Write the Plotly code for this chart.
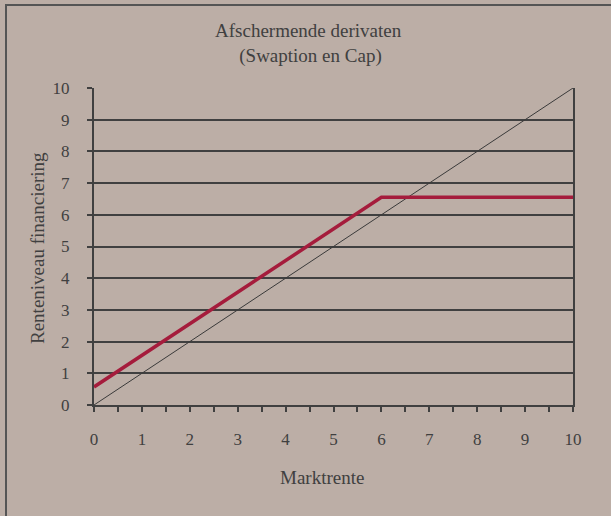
import plotly.graph_objects as go

# Market rate (x) versus resulting financing rate (y)
markt = [0, 10]
referentie = [0, 10]                 # unhedged: financing rate follows the market
afgedekt_x = [0, 6, 10]
afgedekt_y = [0.57, 6.55, 6.55]      # swaption + cap: shifted, capped above 6

x_ticks = list(range(0, 11))
y_ticks = list(range(0, 11))

BG = "#bcaea6"
INK = "#404040"
FONT = "Liberation Serif"

fig = go.Figure()
fig.add_trace(go.Scatter(x=markt, y=referentie, mode="lines",
                         line=dict(color="#3a3a3a", width=1), showlegend=False))
fig.add_trace(go.Scatter(x=afgedekt_x, y=afgedekt_y, mode="lines",
                         line=dict(color="#a51c3c", width=3.5), showlegend=False))

L, R, T, B = 94, 38, 88, 111
W, H = 611, 516
pw, ph = W - L - R, H - T - B

def px_x(px):
    return (px - L) / pw

def px_y(py):
    return (H - B - py) / ph

fig.update_layout(
    width=W, height=H,
    margin=dict(l=L, r=R, t=T, b=B),
    paper_bgcolor=BG, plot_bgcolor=BG,
    font=dict(family=FONT, color=INK, size=17),
    xaxis=dict(range=[0, 10], tickvals=x_ticks, ticks="outside", ticklen=5,
               tickwidth=1.5, tickcolor=INK, showgrid=False, zeroline=False,
               showline=True, linecolor=INK, linewidth=2,
               ticklabelstandoff=13, tickfont=dict(size=17),
               minor=dict(dtick=0.5, ticks="outside", ticklen=5,
                          tickwidth=1.5, tickcolor=INK, showgrid=False)),
    yaxis=dict(range=[0, 10], tickvals=y_ticks, ticks="outside", ticklen=5,
               tickwidth=1.5, tickcolor=INK, showgrid=True, gridcolor=INK,
               gridwidth=1.5, zeroline=False, showline=True, mirror=True,
               linecolor=INK, linewidth=2, ticklabelstandoff=14,
               tickfont=dict(size=17)),
    shapes=[dict(type="rect", xref="paper", yref="paper",
                 x0=px_x(6), x1=px_x(700), y0=px_y(600), y1=px_y(5),
                 line=dict(color="#555555", width=2), layer="below")],
    annotations=[
        dict(text="Afschermende derivaten<br> (Swaption en Cap)",
             xref="paper", yref="paper", x=px_x(308), y=px_y(44),
             xanchor="center", yanchor="middle", showarrow=False,
             font=dict(family=FONT, size=19, color=INK)),
        dict(text="Marktrente", xref="paper", yref="paper",
             x=px_x(322), y=px_y(477), xanchor="center", yanchor="middle",
             showarrow=False, font=dict(family=FONT, size=19, color=INK)),
        dict(text="Renteniveau financiering", xref="paper", yref="paper",
             x=px_x(37), y=px_y(248), xanchor="center", yanchor="middle",
             showarrow=False, textangle=-90,
             font=dict(family=FONT, size=19, color=INK)),
    ],
)

fig.write_html("out.html")
